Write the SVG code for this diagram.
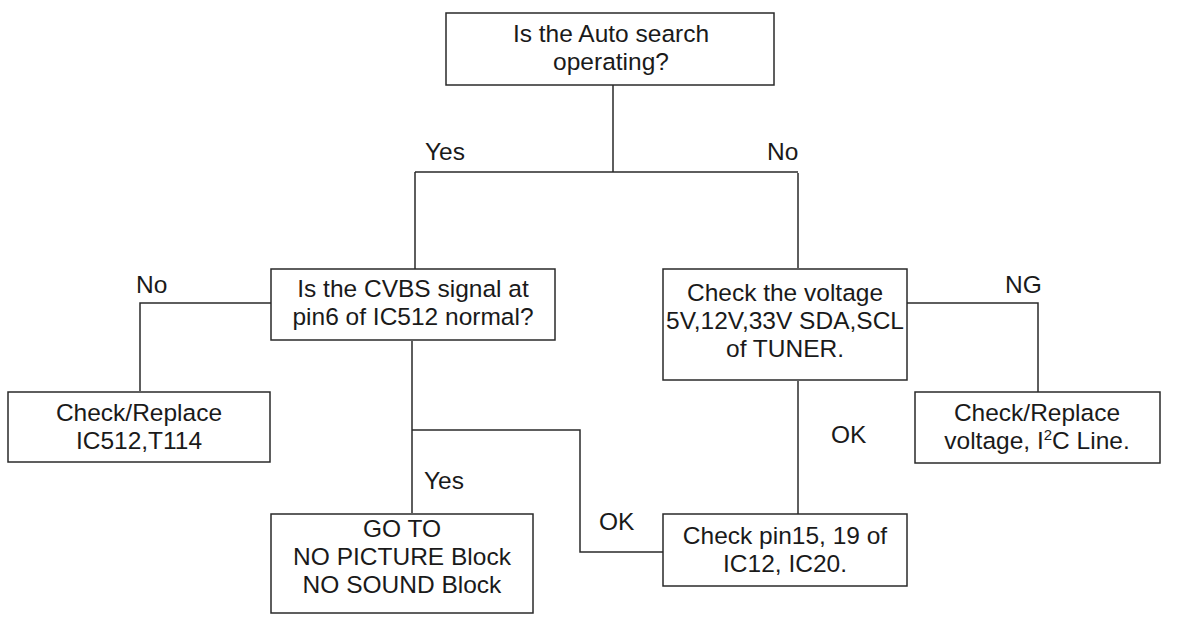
<svg xmlns="http://www.w3.org/2000/svg" width="1200" height="619" viewBox="0 0 1200 619">
<style>
.box{fill:#fff;stroke:#2a2a2a;stroke-width:1.5}
.ln{fill:none;stroke:#2a2a2a;stroke-width:1.5}
text{font-family:"Liberation Sans",Arial,sans-serif;font-size:24.5px;fill:#1a1a1a}
.c{text-anchor:middle}
</style>
<rect width="1200" height="619" fill="#fff"/>
<g id="connectors">
<path class="ln" d="M613,85 V172 M415,172 H798 M415,172 V269 M798,173 V268"/>
<path class="ln" d="M271,303 H140 V391"/>
<path class="ln" d="M907,303 H1038 V392"/>
<path class="ln" d="M798,381 V514"/>
<path class="ln" d="M412,341 V513 M412,430 H580 V552 H663"/>
</g>
<g id="labels">
<text x="425" y="160">Yes</text>
<text x="767" y="160">No</text>
<text x="136" y="293">No</text>
<text x="1005" y="293">NG</text>
<text x="831" y="443">OK</text>
<text x="424" y="489">Yes</text>
<text x="599" y="530">OK</text>
</g>
<g id="n_auto">
<rect class="box" x="446" y="13" width="328" height="72"/>
<text class="c" x="611" y="42">Is the Auto search</text>
<text class="c" x="611" y="70">operating?</text>
</g>
<g id="n_cvbs">
<rect class="box" x="271" y="269" width="284" height="71"/>
<text class="c" x="413" y="297">Is the CVBS signal at</text>
<text class="c" x="413" y="325">pin6 of IC512 normal?</text>
</g>
<g id="n_voltage">
<rect class="box" x="663" y="269" width="244" height="111"/>
<text class="c" x="785" y="301">Check the voltage</text>
<text class="c" x="785" y="329">5V,12V,33V SDA,SCL</text>
<text class="c" x="785" y="357">of TUNER.</text>
</g>
<g id="n_replace_ic">
<rect class="box" x="8" y="392" width="262" height="70"/>
<text class="c" x="139" y="421">Check/Replace</text>
<text class="c" x="139" y="449">IC512,T114</text>
</g>
<g id="n_replace_v">
<rect class="box" x="915" y="392" width="245" height="71"/>
<text class="c" x="1037" y="421">Check/Replace</text>
<text class="c" x="1037" y="449">voltage, I<tspan font-size="15" dy="-9">2</tspan><tspan dy="9">C Line.</tspan></text>
</g>
<g id="n_goto">
<rect class="box" x="271" y="514" width="262" height="99"/>
<text class="c" x="402" y="537">GO TO</text>
<text class="c" x="402" y="565">NO PICTURE Block</text>
<text class="c" x="402" y="593">NO SOUND Block</text>
</g>
<g id="n_pin">
<rect class="box" x="663" y="514" width="244" height="72"/>
<text class="c" x="785" y="544">Check pin15, 19 of</text>
<text class="c" x="785" y="572">IC12, IC20.</text>
</g>
</svg>
